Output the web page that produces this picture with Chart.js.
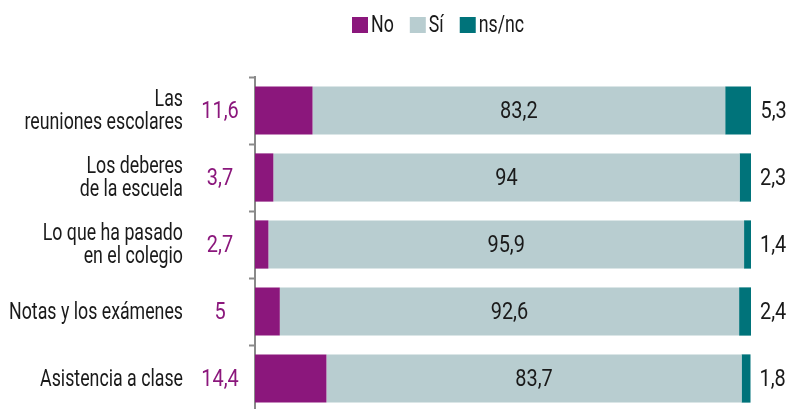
<!DOCTYPE html>
<html lang="es">
<head>
<meta charset="utf-8">
<title>Temas de conversación</title>
<script src="https://cdn.jsdelivr.net/npm/chart.js@4/dist/chart.umd.min.js"></script>
<style>
  html, body { margin: 0; padding: 0; background: #fff; overflow: hidden; }
  #wrap { position: relative; width: 788px; height: 412px; }
</style>
</head>
<body>
<div id="wrap"><canvas id="chart"></canvas></div>
<script>
const categories = [
  ['Las', 'reuniones escolares'],
  ['Los deberes', 'de la escuela'],
  ['Lo que ha pasado', 'en el colegio'],
  ['Notas y los exámenes'],
  ['Asistencia a clase']
];
const noValues = [11.6, 3.7, 2.7, 5, 14.4];
const siValues = [83.2, 94, 95.9, 92.6, 83.7];
const nsncValues = [5.3, 2.3, 1.4, 2.4, 1.8];

const FONT = '24px Roboto, sans-serif';
const SX_TEXT = 0.74;       // horizontal squeeze for words
const SX_NUM = 0.83;        // and for figures
const INK = '#1a1a1a';
const PURPLE = '#8b177c';
const LIGHT = '#b8cdd0';
const TEAL = '#00737a';

const fmt = v => String(v).replace('.', ',');

function squeezedText(ctx, text, x, y, align, color, sx) {
  ctx.save();
  ctx.translate(x, y);
  ctx.scale(sx, 1);
  ctx.fillStyle = color;
  ctx.textAlign = align;
  ctx.fillText(text, 0, 0);
  ctx.restore();
}

// legend, category names and value labels
const textLayer = {
  id: 'textLayer',
  afterDatasetsDraw(chart) {
    const ctx = chart.ctx;
    const area = chart.chartArea;
    ctx.save();
    ctx.font = FONT;
    ctx.textBaseline = 'middle';

    // legend
    const items = chart.data.datasets.map(d => ({ label: d.label, color: d.backgroundColor }));
    const box = 16, gap = 3, spacing = 16;
    const widths = items.map(it => ctx.measureText(it.label).width * SX_TEXT);
    let lx = 352;
    const ly = 25;
    items.forEach((it, i) => {
      ctx.fillStyle = it.color;
      ctx.fillRect(lx, ly - box / 2, box, box);
      squeezedText(ctx, it.label, lx + box + gap, ly + 1, 'left', INK, SX_TEXT);
      lx += box + gap + widths[i] + spacing;
    });

    const noMeta = chart.getDatasetMeta(0);
    const siMeta = chart.getDatasetMeta(1);
    const nsMeta = chart.getDatasetMeta(2);
    noMeta.data.forEach((bar, i) => {
      // category name, right aligned
      const lines = categories[i];
      const lh = 23;
      lines.forEach((line, k) => {
        const y = bar.y + 1 + (k - (lines.length - 1) / 2) * lh;
        squeezedText(ctx, line, area.left - 72, y, 'right', INK, SX_TEXT);
      });
      squeezedText(ctx, fmt(noValues[i]), area.left - 35, bar.y + 1, 'center', PURPLE, SX_NUM);
      const s = siMeta.data[i];
      squeezedText(ctx, fmt(siValues[i]), (s.x + s.base) / 2, s.y + 1, 'center', INK, SX_NUM);
      const n = nsMeta.data[i];
      squeezedText(ctx, fmt(nsncValues[i]), n.x + 9, n.y + 1, 'left', INK, SX_NUM);
    });
    ctx.restore();
  }
};

new Chart(document.getElementById('chart'), {
  type: 'bar',
  data: {
    labels: categories,
    datasets: [
      { label: 'No', data: noValues, backgroundColor: PURPLE },
      { label: 'Sí', data: siValues, backgroundColor: LIGHT },
      { label: 'ns/nc', data: nsncValues, backgroundColor: TEAL }
    ]
  },
  options: {
    indexAxis: 'y',
    responsive: true,
    maintainAspectRatio: false,
    animation: false,
    barPercentage: 0.72,
    categoryPercentage: 1,
    layout: { padding: { top: 77, right: 37, bottom: 0, left: 0 } },
    plugins: {
      legend: { display: false },
      tooltip: { enabled: false }
    },
    scales: {
      x: {
        stacked: true,
        display: false,
        min: 0,
        max: 100
      },
      y: {
        stacked: true,
        afterFit(scale) { scale.width = 255; },
        border: { display: true, color: '#8a8a8a', width: 2 },
        grid: {
          offset: true,
          drawOnChartArea: false,
          drawTicks: true,
          tickLength: 6,
          tickWidth: 2,
          color: '#8a8a8a'
        },
        ticks: { display: false }
      }
    }
  },
  plugins: [textLayer]
});
</script>
</body>
</html>
